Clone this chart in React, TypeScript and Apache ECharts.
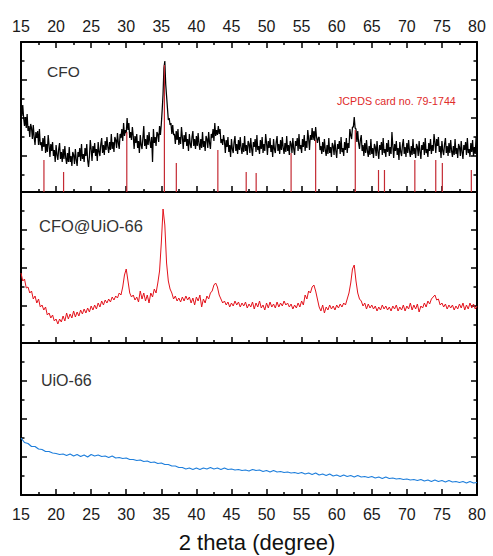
import React, { useEffect, useRef } from 'react';
import * as echarts from 'echarts';

// 2-theta range (degree)
const X_MIN = 15;
const X_MAX = 80;
const X_INTERVAL = 5;

// CFO pattern, sampled every 0.125 degree from 15 to 80 (arbitrary units); one row per degree
const CFO_START = 15;
const CFO_STEP = 0.125;
const cfoIntensity = [
  88, 76, 87, 74, 66, 75, 64, 78,
  61, 66, 55, 68, 64, 53, 67, 55,
  47, 60, 54, 61, 47, 63, 47, 50,
  41, 54, 45, 56, 39, 48, 40, 57,
  47, 35, 48, 41, 50, 36, 42, 30,
  47, 37, 32, 43, 49, 33, 40, 30,
  43, 33, 46, 34, 28, 39, 30, 45,
  30, 36, 26, 40, 37, 28, 43, 32,
  26, 40, 35, 44, 31, 48, 33, 38,
  30, 44, 36, 48, 32, 25, 35, 52,
  43, 31, 46, 39, 49, 36, 43, 31,
  50, 40, 36, 48, 54, 39, 47, 37,
  51, 42, 55, 45, 39, 50, 42, 58,
  43, 50, 40, 55, 52, 44, 59, 49,
  43, 58, 54, 63, 51, 69, 56, 62,
  59, 74, 62, 69, 54, 60, 52, 65,
  56, 43, 56, 49, 58, 44, 51, 39,
  57, 47, 43, 54, 66, 46, 53, 43,
  57, 47, 60, 50, 44, 55, 30, 63,
  49, 55, 46, 60, 58, 50, 66, 57,
  68, 82, 98, 124, 131, 108, 96, 84,
  72, 74, 67, 69, 58, 67, 57, 58,
  48, 61, 52, 63, 47, 55, 48, 65,
  55, 43, 57, 50, 60, 46, 53, 41,
  58, 48, 44, 55, 61, 46, 53, 43,
  56, 46, 59, 48, 42, 53, 44, 60,
  45, 51, 41, 56, 53, 44, 60, 49,
  43, 58, 54, 63, 51, 69, 56, 62,
  57, 66, 58, 63, 49, 53, 47, 57,
  51, 39, 52, 45, 55, 40, 47, 35,
  53, 43, 39, 50, 56, 41, 48, 38,
  52, 42, 55, 44, 38, 49, 40, 56,
  41, 47, 37, 51, 48, 39, 54, 43,
  36, 50, 45, 53, 40, 57, 42, 46,
  38, 52, 43, 55, 39, 48, 41, 58,
  49, 37, 51, 44, 54, 40, 47, 35,
  53, 43, 39, 50, 56, 41, 48, 38,
  52, 42, 55, 44, 38, 49, 40, 56,
  41, 47, 37, 51, 48, 39, 54, 43,
  37, 51, 46, 54, 41, 58, 43, 47,
  39, 53, 45, 57, 41, 51, 44, 62,
  53, 42, 57, 52, 64, 52, 61, 51,
  65, 55, 49, 54, 55, 42, 46, 38,
  50, 40, 53, 42, 36, 47, 38, 54,
  39, 45, 35, 49, 46, 37, 52, 41,
  34, 48, 43, 51, 38, 55, 40, 44,
  36, 50, 42, 54, 39, 49, 44, 63,
  57, 53, 65, 65, 75, 64, 63, 50,
  61, 49, 43, 52, 57, 41, 47, 36,
  49, 39, 52, 41, 35, 46, 37, 53,
  38, 44, 34, 48, 45, 36, 51, 40,
  33, 47, 42, 50, 37, 54, 39, 43,
  35, 49, 40, 52, 36, 45, 38, 60,
  46, 34, 48, 41, 51, 37, 44, 32,
  50, 40, 36, 47, 53, 38, 45, 35,
  49, 39, 52, 41, 35, 46, 37, 53,
  38, 44, 34, 48, 45, 36, 51, 40,
  33, 47, 42, 50, 37, 54, 39, 43,
  35, 49, 41, 53, 38, 47, 41, 58,
  50, 39, 53, 46, 55, 40, 46, 34,
  51, 41, 37, 48, 54, 39, 46, 36,
  49, 39, 52, 41, 35, 46, 37, 53,
  38, 44, 34, 48, 45, 36, 51, 40,
  33, 47, 42, 50, 37, 54, 39, 43,
  35, 49, 40, 52, 36, 45, 38, 55,
  44,
];

// CFO@UiO-66 pattern, sampled every 0.25 degree from 15 to 80
const HYB_START = 15;
const HYB_STEP = 0.25;
const hybridIntensity = [
  70, 62, 64, 55, 56, 50, 52, 44, 47, 40, 44, 36, 38, 33, 36, 28,
  30, 25, 28, 22, 24, 19, 24, 21, 27, 22, 30, 24, 29, 25, 32, 26,
  31, 27, 33, 29, 34, 30, 35, 31, 37, 33, 38, 34, 40, 36, 42, 38,
  43, 40, 44, 41, 46, 43, 47, 45, 50, 48, 56, 68, 74, 62, 50, 46,
  48, 43, 46, 41, 52, 44, 50, 42, 48, 40, 50, 46, 54, 50, 60, 72,
  100, 134, 118, 80, 62, 54, 50, 44, 47, 42, 45, 41, 46, 42, 47, 43,
  46, 40, 45, 38, 46, 42, 48, 36, 44, 40, 47, 44, 50, 52, 58, 60,
  56, 48, 44, 40, 42, 38, 41, 36, 40, 37, 42, 38, 41, 36, 40, 37,
  41, 35, 39, 36, 41, 34, 40, 36, 42, 35, 38, 33, 40, 35, 41, 36,
  39, 35, 41, 36, 40, 37, 42, 38, 40, 36, 39, 34, 38, 35, 40, 36,
  42, 38, 48, 44, 52, 50, 56, 58, 52, 44, 36, 32, 38, 30, 36, 33,
  38, 34, 37, 33, 38, 35, 39, 36, 40, 38, 44, 50, 60, 74, 78, 62,
  50, 44, 42, 37, 40, 34, 39, 35, 38, 34, 37, 32, 36, 33, 38, 34,
  37, 33, 36, 32, 37, 34, 38, 32, 36, 33, 38, 32, 37, 34, 40, 33,
  38, 34, 39, 31, 37, 35, 40, 36, 42, 39, 44, 46, 48, 43, 44, 38,
  40, 36, 39, 34, 38, 35, 38, 33, 37, 34, 39, 35, 40, 33, 38, 34,
  40, 35, 39, 34, 37,
];

// UiO-66 pattern, sampled every 0.5 degree from 15 to 80
const UIO_START = 15;
const UIO_STEP = 0.5;
const uioIntensity = [
  57, 52.5, 51.5, 48.5, 48.5, 46, 45.5, 43.5, 43.5, 42, 41.5, 40.5, 41, 39.5,
  41, 39, 40.5, 38.5, 40, 38, 40.5, 39, 40, 38.5, 39, 37.5, 39, 37, 37.5, 36.5,
  37, 35.5, 35.5, 34.5, 35, 33.5, 34, 32.5, 33, 31.5, 32, 30.5, 30.5, 29,
  29, 27.5, 27.5, 26, 27, 25.5, 27, 25.5, 27, 26, 27.5, 26, 27, 25.5, 27, 25.5,
  26, 25, 25.5, 24.5, 25, 24, 25.5, 24.5, 25, 23.5, 24.5, 23, 24.5, 23,
  23.5, 22.5, 23, 22, 22.5, 21.5, 22.5, 21, 22, 20.5, 22, 20, 21, 19.5,
  21, 19, 20, 18.5, 20, 18.5, 19.5, 18, 19.5, 18, 18.5, 17.5, 18.5, 17,
  18, 16.5, 18, 16.5, 17, 16, 16.5, 15.5, 16, 15, 15.5, 14.5, 15.5, 14,
  15, 13.5, 15, 13.5, 14.5, 13, 14.5, 13, 13.5, 12.5, 13.5, 12, 13.5, 12,
  12.5,
];

// JCPDS card no. 79-1744 reference lines
const jcpdsPositions = [18.27, 21.07, 30.08, 35.44, 37.14, 43.06, 47.1, 48.52, 53.5, 57.0, 62.65, 65.96, 66.81, 71.14, 74.12, 75.06, 79.19];
const jcpdsHeights = [32, 20, 60, 127, 29, 42, 20, 19, 39, 52, 62, 22, 22, 32, 32, 29, 22];

const panelLabels = ['CFO', 'CFO@UiO-66', 'UiO-66'];
const xAxisTitle = '2 theta (degree)';
const jcpdsLabel = 'JCPDS card no. 79-1744';

const FONT = "'Liberation Sans', Arial, sans-serif";

const PANELS = [
  { top: 42, height: 150 },
  { top: 192, height: 151 },
  { top: 343, height: 152 },
];

export default function App() {
  const ref = useRef<HTMLDivElement>(null);

  useEffect(() => {
    document.body.style.margin = '0';
    if (!ref.current) return;
    const chart = echarts.init(ref.current, undefined, { renderer: 'svg' });

    const toPairs = (arr: number[], start: number, step: number) =>
      arr.map((v, i) => [start + i * step, v]);

    const grids = PANELS.map((p) => ({ left: 21, right: 16, top: p.top, height: p.height }));

    const baseX = (gridIndex: number, position: string, showLabel: boolean, margin: number) => ({
      type: 'value',
      gridIndex,
      position,
      min: X_MIN,
      max: X_MAX,
      interval: X_INTERVAL,
      axisLine: { show: true, onZero: false, lineStyle: { color: '#000', width: 2 } },
      axisTick: { show: true, inside: true, length: 6, lineStyle: { color: '#000', width: 1.5 } },
      minorTick: { show: true, splitNumber: 2, length: 3, lineStyle: { color: '#000', width: 1.5 } },
      splitLine: { show: false },
      minorSplitLine: { show: false },
      axisLabel: { show: showLabel, fontSize: 16, color: '#1a1a1a', fontFamily: FONT, margin },
    });

    const xAxes = [
      baseX(0, 'bottom', false, 8),
      baseX(0, 'top', true, 8),
      baseX(1, 'bottom', false, 8),
      baseX(2, 'bottom', true, 11),
    ];

    const yAxes: any[] = [];
    PANELS.forEach((p, gi) => {
      yAxes.push({
        type: 'value', gridIndex: gi, min: 0, max: p.height, show: false,
      });
      ['left', 'right'].forEach((pos) => {
        yAxes.push({
          type: 'value',
          gridIndex: gi,
          position: pos,
          inverse: true,
          min: 0,
          max: p.height,
          interval: 38,
          axisLine: { show: true, onZero: false, lineStyle: { color: '#000', width: 2 } },
          axisTick: { show: true, inside: true, length: 6, lineStyle: { color: '#000', width: 1.5 } },
          minorTick: { show: true, splitNumber: 2, length: 3.5, lineStyle: { color: '#000', width: 1.5 } },
          axisLabel: { show: false },
          splitLine: { show: false },
          minorSplitLine: { show: false },
        });
      });
    });

    const option: any = {
      animation: false,
      grid: grids,
      xAxis: xAxes,
      yAxis: yAxes,
      series: [
        {
          type: 'line',
          xAxisIndex: 0,
          yAxisIndex: 0,
          data: toPairs(cfoIntensity, CFO_START, CFO_STEP),
          symbol: 'none',
          lineStyle: { color: '#000', width: 1.25 },
          z: 2,
          silent: true,
        },
        {
          type: 'bar',
          xAxisIndex: 0,
          yAxisIndex: 0,
          data: jcpdsPositions.map((x, i) => [x, jcpdsHeights[i]]),
          barWidth: 1.2,
          itemStyle: { color: '#c42a33' },
          z: 3,
          silent: true,
        },
        {
          type: 'line',
          xAxisIndex: 2,
          yAxisIndex: 3,
          data: toPairs(hybridIntensity, HYB_START, HYB_STEP),
          symbol: 'none',
          lineStyle: { color: '#e3121b', width: 1 },
          silent: true,
        },
        {
          type: 'line',
          xAxisIndex: 3,
          yAxisIndex: 6,
          data: toPairs(uioIntensity, UIO_START, UIO_STEP),
          symbol: 'none',
          lineStyle: { color: '#1f7fdc', width: 1.2 },
          silent: true,
        },
      ],
      graphic: [
        {
          type: 'text', x: 47, y: 71,
          style: { text: panelLabels[0], fill: '#333', fontSize: 15.5, fontFamily: FONT, verticalAlign: 'middle', align: 'left' },
        },
        {
          type: 'text', x: 39, y: 226,
          style: { text: panelLabels[1], fill: '#333', fontSize: 16.5, fontFamily: FONT, verticalAlign: 'middle', align: 'left' },
        },
        {
          type: 'text', x: 41, y: 380,
          style: { text: panelLabels[2], fill: '#333', fontSize: 16, fontFamily: FONT, verticalAlign: 'middle', align: 'left' },
        },
        {
          type: 'text', x: 337, y: 100.5,
          style: { text: jcpdsLabel, fill: '#e02a2a', fontSize: 10.7, fontFamily: FONT, verticalAlign: 'middle', align: 'left' },
        },
        {
          type: 'text', x: 257, y: 542,
          style: { text: xAxisTitle, fill: '#111', fontSize: 22, fontFamily: FONT, verticalAlign: 'middle', align: 'center' },
        },
      ],
    };

    chart.setOption(option);
    return () => chart.dispose();
  }, []);

  return <div ref={ref} style={{ width: 493, height: 556 }} />;
}
